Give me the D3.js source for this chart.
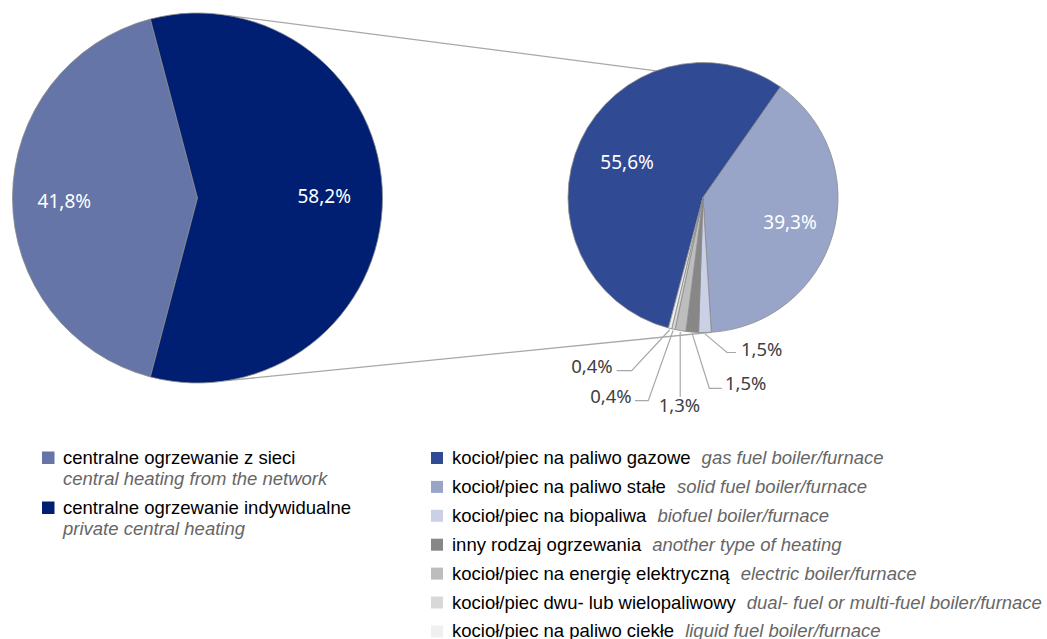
<!DOCTYPE html>
<html>
<head>
<meta charset="utf-8">
<script src="https://cdn.jsdelivr.net/npm/d3@7"></script>
<style>
  body { margin: 0; background: #fff; }
  svg { display: block; }
</style>
</head>
<body>
<div class="vis-chart"></div>
<script>
// dane - lewy wykres (rodzaj ogrzewania)
const mainCats = ['centralne ogrzewanie z sieci', 'centralne ogrzewanie indywidualne'];
const mainCatsEn = ['central heating from the network', 'private central heating'];
const mainValues = [41.8, 58.2];
const mainColors = ['#6675a8', '#001f73'];

// dane - prawy wykres (ogrzewanie indywidualne)
const subCats = ['kocioł/piec na paliwo gazowe', 'kocioł/piec na paliwo stałe', 'kocioł/piec na biopaliwa',
    'inny rodzaj ogrzewania', 'kocioł/piec na energię elektryczną', 'kocioł/piec dwu- lub wielopaliwowy',
    'kocioł/piec na paliwo ciekłe'];
const subCatsEn = ['gas fuel boiler/furnace', 'solid fuel boiler/furnace', 'biofuel boiler/furnace',
    'another type of heating', 'electric boiler/furnace', 'dual- fuel or multi-fuel boiler/furnace',
    'liquid fuel boiler/furnace'];
const subValues = [55.6, 39.3, 1.5, 1.5, 1.3, 0.4, 0.4];
const subColors = ['#304a93', '#98a5c9', '#cad0e6', '#878787', '#bdbdbd', '#d8d8d8', '#f0f0f0'];

const width = 1047, height = 639;
const rad = d => d * Math.PI / 180;
const plFormat = d3.formatLocale({ decimal: ',', thousands: ' ', grouping: [3], currency: ['', ''] }).format('.1f');
const pct = v => plFormat(v) + '%';

const big = { cx: 197.5, cy: 198, r: 185 };
const small = { cx: 703, cy: 197.5, r: 135 };
const labelFont = '"Noto Sans", "Open Sans", sans-serif';
const legendFont = '"Liberation Sans", Arial, sans-serif';

const svg = d3.select('.vis-chart').append('svg')
    .attr('width', width)
    .attr('height', height);

const pointOn = (c, a, k = 1) => [c.cx + c.r * k * Math.sin(a), c.cy - c.r * k * Math.cos(a)];
const mid = d => (d.startAngle + d.endAngle) / 2;

/* ***** lewy wykres ***** */
const mainTotal = d3.sum(mainValues);
const mainStart = rad(270) - Math.PI * mainValues[0] / mainTotal;
const mainPie = d3.pie().sort(null).startAngle(mainStart).endAngle(mainStart + 2 * Math.PI)(mainValues);
const mainArc = d3.arc().innerRadius(0).outerRadius(big.r);

/* ***** prawy wykres ***** */
const subTotal = d3.sum(subValues);
const subStart = rad(35) - 2 * Math.PI * subValues[0] / subTotal;
const subPie = d3.pie().sort(null).startAngle(subStart).endAngle(subStart + 2 * Math.PI)(subValues);
const subArc = d3.arc().innerRadius(0).outerRadius(small.r);

// linie laczace
const topA = pointOn(big, rad(9));
const botA = pointOn(big, rad(171));
const topB = pointOn(small, subPie[0].endAngle);
const botB = pointOn(small, subPie[1].endAngle);
svg.append('g')
    .selectAll('line')
    .data([[topA, topB], [botA, botB]])
    .enter().append('line')
    .attr('x1', d => d[0][0]).attr('y1', d => d[0][1])
    .attr('x2', d => d[1][0]).attr('y2', d => d[1][1])
    .attr('stroke', '#a8a8a8')
    .attr('stroke-width', 1.3);

const gMain = svg.append('g').attr('transform', `translate(${big.cx},${big.cy})`);
gMain.selectAll('path')
    .data(mainPie)
    .enter().append('path')
    .attr('d', mainArc)
    .attr('fill', (d, i) => mainColors[i])
    .attr('stroke', '#8a8a8a')
    .attr('stroke-width', 0.8);

const mainLabelK = [0.72, 0.685];
gMain.selectAll('text')
    .data(mainPie)
    .enter().append('text')
    .attr('x', (d, i) => Math.sin(mid(d)) * big.r * mainLabelK[i])
    .attr('y', (d, i) => -Math.cos(mid(d)) * big.r * mainLabelK[i] + (i === 0 ? 3 : -2))
    .attr('text-anchor', 'middle')
    .attr('dominant-baseline', 'central')
    .style('font-family', labelFont)
    .style('font-size', '19px')
    .attr('fill', '#fff')
    .text((d, i) => pct(mainValues[i]));

const gSub = svg.append('g').attr('transform', `translate(${small.cx},${small.cy})`);
gSub.selectAll('path')
    .data(subPie)
    .enter().append('path')
    .attr('d', subArc)
    .attr('fill', (d, i) => subColors[i])
    .attr('stroke', '#8a8a8a')
    .attr('stroke-width', 0.8);

// etykiety wewnatrz
const subLabelK = [0.62, 0.67];
gSub.selectAll('text.inside')
    .data(subPie.slice(0, 2))
    .enter().append('text')
    .attr('class', 'inside')
    .attr('x', (d, i) => Math.sin(mid(d)) * small.r * subLabelK[i])
    .attr('y', (d, i) => -Math.cos(mid(d)) * small.r * subLabelK[i])
    .attr('text-anchor', 'middle')
    .attr('dominant-baseline', 'central')
    .style('font-family', labelFont)
    .style('font-size', '19px')
    .attr('fill', '#fff')
    .text((d, i) => pct(subValues[i]));

// etykiety zewnetrzne z liniami odniesienia (uklad wzgledem srodka wykresu)
const leaderLayout = [
    { elbow: [24, 155], end: 33, text: [38, 150.5], anchor: 'start' },
    { elbow: [6.3, 190.8], end: 18.7, text: [22, 185], anchor: 'start' },
    { elbow: [null, 199.2], end: null, text: [-23.5, 207], anchor: 'middle' },
    { elbow: [-54.7, 203.2], end: -68, text: [-71.3, 197.5], anchor: 'end' },
    { elbow: [-71.3, 173.2], end: -86.3, text: [-90.3, 167.5], anchor: 'end' }
];
subPie.slice(2).forEach((d, i) => {
    const a = mid(d);
    const sx = Math.sin(a) * small.r * 1.01, sy = -Math.cos(a) * small.r * 1.01;
    const L = leaderLayout[i];
    const ex = L.elbow[0] === null ? sx : L.elbow[0];
    const pts = [[sx, sy], [ex, L.elbow[1]]];
    if (L.end !== null) pts.push([L.end, L.elbow[1]]);
    gSub.append('path')
        .attr('d', d3.line()(pts))
        .attr('fill', 'none')
        .attr('stroke', '#a8a8a8')
        .attr('stroke-width', 1.2);
    gSub.append('text')
        .attr('x', L.text[0])
        .attr('y', L.text[1])
        .attr('text-anchor', L.anchor)
        .attr('dominant-baseline', 'central')
        .style('font-family', labelFont)
        .style('font-size', '18.5px')
        .attr('fill', '#404040')
        .text(pct(subValues[i + 2]));
});

/* ***** legenda lewa ***** */
const legL = svg.append('g').attr('transform', 'translate(42,0)');
mainCats.forEach((c, i) => {
    const y = 458 + i * 50;
    legL.append('rect')
        .attr('x', 0).attr('y', y - 6.5)
        .attr('width', 12.5).attr('height', 12.5)
        .attr('fill', mainColors[i]);
    legL.append('text')
        .attr('x', 21).attr('y', y + 6)
        .style('font-family', legendFont)
        .style('font-size', '18.5px')
        .attr('fill', '#000')
        .text(c);
    legL.append('text')
        .attr('x', 21).attr('y', y + 27)
        .style('font-family', legendFont)
        .style('font-size', '18.5px')
        .style('font-style', 'italic')
        .attr('fill', '#666')
        .text(mainCatsEn[i]);
});

/* ***** legenda prawa ***** */
const legR = svg.append('g').attr('transform', 'translate(431,0)');
subCats.forEach((c, i) => {
    const y = 458 + i * 28.9;
    legR.append('rect')
        .attr('x', 0).attr('y', y - 6)
        .attr('width', 12).attr('height', 12)
        .attr('fill', subColors[i]);
    const t = legR.append('text')
        .attr('x', 21).attr('y', y + 6)
        .style('font-family', legendFont)
        .style('font-size', '18.5px');
    t.append('tspan').attr('fill', '#000').text(c);
    t.append('tspan')
        .attr('dx', 11)
        .attr('fill', '#666')
        .style('font-style', 'italic')
        .text(subCatsEn[i]);
});
</script>
</body>
</html>
